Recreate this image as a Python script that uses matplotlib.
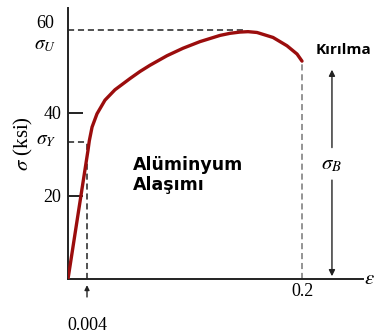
import numpy as np
import matplotlib
matplotlib.use("Agg")
import matplotlib.pyplot as plt
from matplotlib.scale import FuncScale

plt.rcParams['mathtext.fontset'] = 'stix'

# Data (strain, stress in ksi) read from the schematic
strain = [0.0, 0.0049, 0.0061, 0.0086, 0.0131, 0.0204, 0.0295, 0.0432, 0.0523, 0.0614,
          0.0769, 0.0915, 0.1070, 0.1253, 0.1344, 0.1435, 0.1508, 0.1590, 0.1736,
          0.1863, 0.1955, 0.2]
stress = [0.0, 31.0, 33.3, 36.6, 39.8, 43.1, 45.6, 48.3, 50.0, 51.5,
          53.8, 55.6, 57.2, 58.7, 59.2, 59.5, 59.6, 59.4, 58.2,
          56.2, 54.2, 52.5]
yield_strain = 0.004
yield_stress = 33.0
ultimate_stress = 60.0
ultimate_strain = 0.146
fracture_strain = 0.2
fracture_stress = 52.5
sigma_B_top = 51.1
y_ticks = [20, 40]
y_ticklabels = ['20', '40']

# broken schematic strain axis
def fwd(x):
    x = np.asarray(x, dtype=float)
    return np.where(x <= 0.004, x / 0.004 * 19.0, 19.0 + (x - 0.004) / 0.196 * 215.0)

def inv(p):
    p = np.asarray(p, dtype=float)
    return np.where(p <= 19.0, p / 19.0 * 0.004, 0.004 + (p - 19.0) / 215.0 * 0.196)

fig = plt.figure(figsize=(3.74, 3.36), dpi=100)
ax = fig.add_axes([68/374, 57/336, 295/374, 271/336])
ax.set_xscale(FuncScale(ax, (fwd, inv)))
ax.set_xlim(0, 0.2556)
ax.set_ylim(0, 65.3)

for s in ['top', 'right']:
    ax.spines[s].set_visible(False)
for s in ['left', 'bottom']:
    ax.spines[s].set_linewidth(1.4)
    ax.spines[s].set_color('#222222')

ax.plot(strain, stress, color='#9b0d0d', lw=2.4, solid_capstyle='round',
        solid_joinstyle='round', zorder=3)

dash = dict(color='#222222', lw=1.1, ls=(0, (4, 2.5)))
ax.plot([0, ultimate_strain], [ultimate_stress, ultimate_stress], **dash)
ax.plot([0, yield_strain], [yield_stress, yield_stress], **dash)
ax.plot([yield_strain, yield_strain], [0, yield_stress], **dash)
ax.plot([fracture_strain, fracture_strain], [0, fracture_stress], color='#777777', lw=1.1, ls=(0, (4, 2.5)))

serif = 'Liberation Serif'
ax.set_yticks(y_ticks)
ax.set_yticklabels(y_ticklabels, family=serif, fontsize=13)
ax.tick_params(axis='y', direction='in', length=11, width=1.4, pad=5, color='#222222')
ax.set_xticks([fracture_strain])
ax.set_xticklabels(['0.2'], family=serif, fontsize=13)
ax.tick_params(axis='x', length=0, pad=3)

ax.text(-0.003, 61.5, '60', ha='right', va='center', family=serif, fontsize=13)
ax.text(-0.0025, 56.5, r'$\sigma_U$', ha='right', va='center', fontsize=14)
ax.text(-0.0025, yield_stress + 0.5, r'$\sigma_Y$', ha='right', va='center', fontsize=14)

ax.annotate('', xy=(yield_strain, -0.8), xytext=(yield_strain, -5.0),
            arrowprops=dict(arrowstyle='-|>', color='#222222', lw=1.0, mutation_scale=7),
            annotation_clip=False)
ax.text(yield_strain, -11.2, '0.004', ha='center', va='center', family=serif, fontsize=13, clip_on=False)

xb = 0.2273
ax.annotate('', xy=(xb, sigma_B_top), xytext=(xb, 31.0),
            arrowprops=dict(arrowstyle='-|>', color='#222222', lw=1.0, mutation_scale=9))
ax.annotate('', xy=(xb, 0), xytext=(xb, 24.5),
            arrowprops=dict(arrowstyle='-|>', color='#222222', lw=1.0, mutation_scale=9))
ax.text(xb, 27.8, r'$\sigma_B$', ha='center', va='center', fontsize=15)

ax.text(0.2565, 0.3, r'$\epsilon$', ha='left', va='center', fontsize=15, clip_on=False)

fig.text(316/374, 1 - 50/336, 'Kırılma', ha='left', va='center', family='Open Sans',
         fontweight='bold', fontsize=11)
fig.text(133/374, 1 - 175/336, 'Alüminyum\nAlaşımı', ha='left', va='center', family='DejaVu Sans',
         fontweight='bold', fontsize=12.5, linespacing=1.1)

fig.text(23/374, 1 - 144/336, r'$\sigma$ (ksi)', rotation=90, ha='center', va='center',
         family=serif, fontsize=15)

fig.savefig('out.png', dpi=100)
